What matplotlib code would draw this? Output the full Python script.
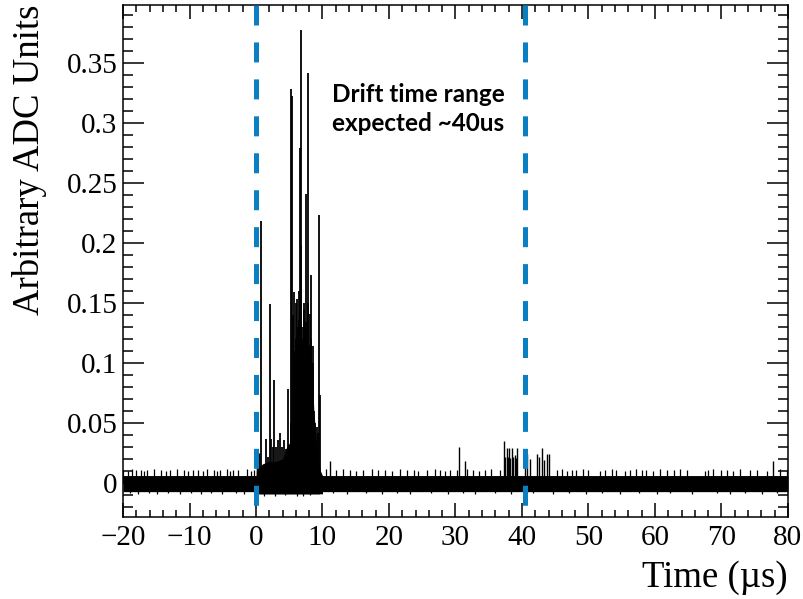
import numpy as np
import matplotlib
matplotlib.use('Agg')
import matplotlib.pyplot as plt
from matplotlib.ticker import MultipleLocator, FuncFormatter

# Axis ranges
x_range = [-20, 80]
y_range = [-0.0283, 0.398]

# Baseline noise band (core of the trace)
band_t = [-20.0, 0.0, 0.5, 9.5, 10.0, 80.0]
band_lo = [-0.0072, -0.0072, -0.0090, -0.0090, -0.0072, -0.0072]
band_hi = [0.0062, 0.0062, 0.0062, 0.0062, 0.0062, 0.0062]

# Upper fringe of the noise (small teeth above the band)
fringe_t = [-19.95, -19.3, -18.7, -18.05, -17.3, -16.9, -16.4, -15.4, -14.3, -13.6,
			-12.9, -11.9, -10.9, -10.2, -9.4, -8.7, -7.9, -7.4, -6.3, -5.9,
			-5.4, -4.3, -3.9, -3.4, -2.7, -1.4, -0.8, -0.3,
			10.5, 12.1, 13.1, 14.1, 15.1, 16.1, 17.4, 18.3, 19.4, 20.4, 21.65, 22.7, 23.7, 24.4,
			25.7, 26.9, 27.7, 28.4, 29.2, 30.2, 31.7, 32.7, 33.6, 34.4, 35.4, 36.7,
			45.2, 46.0, 46.7, 47.5, 48.2, 49.2, 50.0, 51.7, 52.5, 53.5,
			54.2, 55.5, 56.2, 57.2, 58.0, 58.7, 59.7, 60.8, 61.8, 62.8,
			63.8, 64.8, 67.5, 68.0, 68.8, 70.0, 70.8, 71.8, 72.8, 74.3,
			75.3, 76.8, 78.8, 79.8]
fringe_v = [0.011, 0.010, 0.012, 0.011, 0.011, 0.010, 0.011, 0.012, 0.011, 0.010,
			0.011, 0.012, 0.011, 0.010, 0.011, 0.011, 0.010, 0.012, 0.011, 0.010,
			0.011, 0.012, 0.010, 0.011, 0.011, 0.012, 0.010, 0.011,
			0.012, 0.011, 0.012, 0.011, 0.010, 0.011, 0.012, 0.011, 0.011, 0.010, 0.012, 0.011, 0.011, 0.010,
			0.011, 0.012, 0.011, 0.010, 0.011, 0.011, 0.012, 0.011, 0.010, 0.011, 0.012, 0.011,
			0.011, 0.012, 0.010, 0.011, 0.011, 0.012, 0.011, 0.010, 0.011, 0.012,
			0.011, 0.010, 0.011, 0.012, 0.011, 0.011, 0.010, 0.012, 0.011, 0.011,
			0.012, 0.011, 0.010, 0.011, 0.012, 0.011, 0.011, 0.010, 0.012, 0.011,
			0.011, 0.010, 0.012, 0.011]

# Lower fringe of the noise (teeth below the band)
low_t = [-19.0, -17.8, -16.1, -14.9, -13.2, -11.5, -9.8, -8.2, -6.8, -5.1, -3.0, -1.8,
		 1.2, 2.9, 4.4, 6.2, 7.1, 8.1,
		 11.6, 13.7, 16.6, 19.0, 21.2, 23.2, 26.3, 28.9, 31.1, 33.0, 35.9, 38.3, 41.7, 44.6,
		 47.1, 49.7, 52.1, 54.8, 57.6, 60.3, 62.3, 65.6, 69.3, 71.3, 73.6, 76.1, 78.3]
low_v = [-0.0085, -0.0090, -0.0085, -0.0088, -0.0085, -0.0090, -0.0085, -0.0088, -0.0085, -0.0090, -0.0085, -0.0088,
		 -0.0105, -0.0110, -0.0100, -0.0105, -0.0110, -0.0100,
		 -0.0085, -0.0090, -0.0085, -0.0088, -0.0085, -0.0090, -0.0085, -0.0088, -0.0085, -0.0090, -0.0085, -0.0088,
		 -0.0085, -0.0090, -0.0085, -0.0088, -0.0085, -0.0090, -0.0085, -0.0088, -0.0085, -0.0090, -0.0085, -0.0088,
		 -0.0085, -0.0090, -0.0085]

# Bigger noise pulses outside the signal window
burst_t = [11.1, 30.5, 31.5, 37.35, 37.5, 37.7, 37.9, 38.0, 38.2, 38.45, 38.7, 38.9, 39.1, 39.3,
		   40.4, 40.8, 41.2, 42.3, 42.6, 43.05, 43.3, 43.7, 44.0, 77.7]
burst_v = [0.018, 0.030, 0.018, 0.035, 0.022, 0.029, 0.022, 0.029, 0.021, 0.029, 0.022, 0.023, 0.021, 0.029,
		   0.024, 0.024, 0.020, 0.024, 0.022, 0.029, 0.019, 0.024, 0.024, 0.018]

# Signal window: filled envelope of the dense part
sig_t = [0.0, 0.1, 0.55, 0.6, 1.0, 2.0, 3.0, 4.0, 4.6, 5.0, 5.5, 5.7, 6.0, 6.5, 7.0, 7.5, 8.0, 8.4, 8.7, 9.0, 9.3, 9.7, 10.0]
sig_hi = [0.0062, 0.025, 0.025, 0.014, 0.016, 0.018, 0.018, 0.020, 0.030, 0.033, 0.045, 0.090, 0.110, 0.115, 0.115, 0.120, 0.110, 0.100, 0.060, 0.040, 0.020, 0.010, 0.0062]

# Signal window: individual pulses
spike_t = [0.8, 1.5, 1.8, 2.1, 2.3, 2.5, 2.75, 3.0, 3.3, 3.6,
		   3.9, 4.2, 4.5, 4.75, 5.0, 5.2, 5.3, 5.45, 5.55, 5.65,
		   5.75, 5.9, 6.0, 6.05, 6.15, 6.25, 6.35, 6.45, 6.5, 6.6,
		   6.7, 6.8, 6.9, 6.95, 7.05, 7.15, 7.25, 7.3, 7.45, 7.55,
		   7.65, 7.75, 7.85, 7.95, 8.05, 8.15, 8.25, 8.3, 8.45, 8.55,
		   8.6, 8.75, 8.9, 9.2, 9.35, 9.45, 9.6]
spike_v = [0.218, 0.037, 0.022, 0.149, 0.037, 0.030, 0.086, 0.030, 0.036, 0.042,
		   0.030, 0.036, 0.028, 0.078, 0.032, 0.050, 0.328, 0.322, 0.140, 0.110,
		   0.159, 0.100, 0.120, 0.150, 0.153, 0.130, 0.110, 0.136, 0.160, 0.279,
		   0.198, 0.377, 0.115, 0.130, 0.120, 0.144, 0.150, 0.125, 0.241, 0.134,
		   0.120, 0.150, 0.341, 0.100, 0.141, 0.115, 0.120, 0.173, 0.080, 0.100,
		   0.114, 0.060, 0.050, 0.047, 0.042, 0.223, 0.073]

# Expected drift window markers
drift_lines = [0.0, 40.5]
note_text = 'Drift time range\nexpected ~40us'


def main():
	plt.rcParams['font.family'] = ['Liberation Serif', 'DejaVu Serif']
	plt.rcParams['lines.scale_dashes'] = False

	fig = plt.figure(figsize=(8.04, 5.99), dpi=100)
	ax = fig.add_axes([0.153, 0.1369, 0.827, 0.8548])

	# Waveform
	ax.fill_between(band_t, band_lo, band_hi, color='black', lw=0)
	ax.fill_between(sig_t, -0.0090, sig_hi, color='black', lw=0)
	ax.vlines(fringe_t, 0.0, fringe_v, color='black', lw=0.9)
	ax.vlines(low_t, 0.0, low_v, color='black', lw=0.9)
	ax.vlines(burst_t, 0.0, burst_v, color='black', lw=1.0)
	ax.vlines(spike_t, 0.0, spike_v, color='black', lw=1.3)

	# Dashed markers
	for x in drift_lines:
		ax.plot([x, x], [y_range[1], -0.030], color='#0a80c2', lw=3.6,
				dashes=(14.4, 12.2), clip_on=False, zorder=5)

	ax.text(11.4, 0.333, note_text, family='Lato', weight='bold', fontsize=17.5,
			ha='left', va='top', linespacing=1.3)

	ax.set_xlim(x_range)
	ax.set_ylim(y_range)

	# ROOT style axes
	ax.xaxis.set_major_locator(MultipleLocator(10))
	ax.xaxis.set_minor_locator(MultipleLocator(2))
	ax.yaxis.set_major_locator(MultipleLocator(0.05))
	ax.yaxis.set_minor_locator(MultipleLocator(0.01))
	ax.yaxis.set_major_formatter(FuncFormatter(lambda v, p: '%g' % round(v, 3)))
	ax.tick_params(which='both', direction='in', top=True, right=True, width=1.1, labelsize=21)
	ax.tick_params(axis='x', which='major', length=10, pad=6)
	ax.tick_params(axis='x', which='minor', length=5)
	ax.tick_params(axis='y', which='major', length=15, pad=4)
	ax.tick_params(axis='y', which='minor', length=7.5)
	for s in ax.spines.values():
		s.set_linewidth(1.1)

	fig.text(0.980, 0.02, 'Time (\u00b5s)', fontsize=26.5, ha='right', va='baseline')
	fig.text(0.015, 0.9917, 'Arbitrary ADC Units', fontsize=26.5, rotation=90, ha='left', va='top')

	plt.savefig('out.png', dpi=100)


if __name__ == '__main__':
	main()
